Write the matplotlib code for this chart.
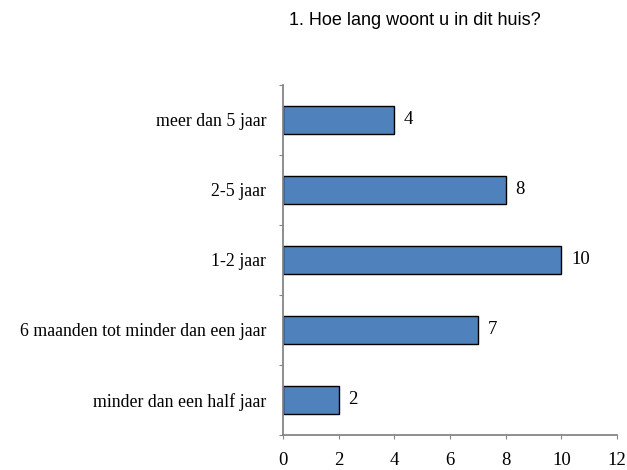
import matplotlib.pyplot as plt

categories = ["minder dan een half jaar",
              "6 maanden tot minder dan een jaar",
              "1-2 jaar",
              "2-5 jaar",
              "meer dan 5 jaar"]
values = [2, 7, 10, 8, 4]
xticks = [0, 2, 4, 6, 8, 10, 12]
title = "1. Hoe lang woont u in dit huis?"

serif = "Liberation Serif"
axis_grey = "#868686"

fig = plt.figure(figsize=(6.27, 4.70), dpi=100)
ax = fig.add_axes([0.4514, 0.0745, 0.5327, 0.7447])

ypos = list(range(len(categories)))
ax.barh(ypos, values, height=0.4, color="#4F81BD", edgecolor="black", linewidth=1.0)

for y, v in zip(ypos, values):
    ax.annotate(str(v), (v, y), xytext=(7, 0), textcoords="offset points",
                ha="left", va="center", fontsize=13.5, family=serif)

ax.set_xlim(0, 12)
ax.set_ylim(-0.5, len(categories) - 0.5)
ax.set_xticks(xticks)
ax.set_xticklabels([str(t) for t in xticks], fontsize=13.5, family=serif)
ax.set_yticks([y - 0.5 for y in ypos] + [len(categories) - 0.5])
ax.set_yticklabels([])
ax.set_yticks(ypos, minor=True)
ax.set_yticklabels(categories, minor=True, fontsize=12.8, family=serif)
ax.tick_params(axis="y", which="minor", length=0, pad=12)
ax.tick_params(axis="y", which="major", length=3, color=axis_grey, direction="out")
ax.tick_params(axis="x", length=3, color=axis_grey, direction="out", pad=9)

for side in ["top", "right"]:
    ax.spines[side].set_visible(False)
for side in ["left", "bottom"]:
    ax.spines[side].set_color(axis_grey)
    ax.spines[side].set_linewidth(1.3)

fig.text(0.662, 0.957, title, ha="center", va="center", fontsize=13,
         family="Liberation Sans")

fig.savefig("out.png", dpi=100)
